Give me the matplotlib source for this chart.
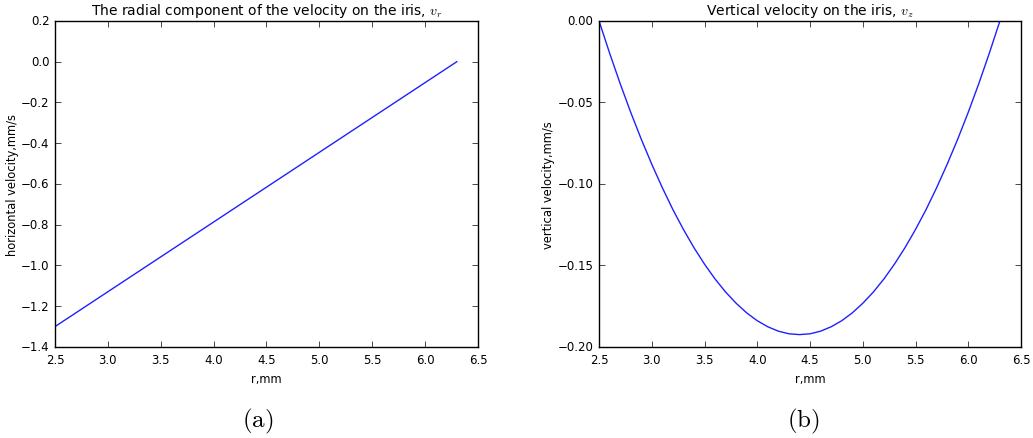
import matplotlib
matplotlib.use("Agg")
import matplotlib.pyplot as plt

# radial velocity
r_a = [2.5, 6.3]
vr = [-1.3, 0.0]

# vertical velocity
r_b = [2.5, 2.6, 2.7, 2.8, 2.9, 3.0, 3.1, 3.2, 3.3, 3.4, 3.5, 3.6, 3.7, 3.8,
       3.9, 4.0, 4.1, 4.2, 4.3, 4.4, 4.5, 4.6, 4.7, 4.8, 4.9, 5.0, 5.1, 5.2,
       5.3, 5.4, 5.5, 5.6, 5.7, 5.8, 5.9, 6.0, 6.1, 6.2, 6.3]
vz = [0.0, -0.0197, -0.0384, -0.0560, -0.0725, -0.0879, -0.1023, -0.1157,
      -0.1279, -0.1391, -0.1492, -0.1583, -0.1663, -0.1732, -0.1791, -0.1839,
      -0.1876, -0.1903, -0.1919, -0.1924, -0.1919, -0.1903, -0.1876, -0.1839,
      -0.1791, -0.1732, -0.1663, -0.1583, -0.1492, -0.1391, -0.1279, -0.1157,
      -0.1023, -0.0879, -0.0725, -0.0560, -0.0384, -0.0197, 0.0]

plt.style.use('classic')
plt.rcParams['figure.facecolor'] = 'white'
plt.rcParams['savefig.facecolor'] = 'white'
plt.rcParams['font.size'] = 8.5

fig = plt.figure(figsize=(10.33, 4.39), dpi=100)
ax1 = fig.add_axes([0.0532, 0.2073, 0.4095, 0.7427])
ax2 = fig.add_axes([0.5799, 0.2073, 0.4085, 0.7427])

ax1.plot(r_a, vr, color='#2020ff')
ax1.set_xlim(2.5, 6.5)
ax1.set_ylim(-1.4, 0.2)
ax1.set_title(r'The radial component of the velocity on the iris, $v_r$', fontsize=10)
ax1.set_xlabel('r,mm', fontsize=8.3)
ax1.set_ylabel('horizontal velocity,mm/s', fontsize=8.3, labelpad=1)

ax2.plot(r_b, vz, color='#2020ff')
ax2.set_xlim(2.5, 6.5)
ax2.set_ylim(-0.2, 0.0)
ax2.set_yticks([-0.20, -0.15, -0.10, -0.05, 0.00])
ax2.set_title(r'Vertical velocity on the iris, $v_z$', fontsize=10)
ax2.set_xlabel('r,mm', fontsize=8.3)
ax2.set_ylabel('vertical velocity,mm/s', fontsize=8.3, labelpad=2)

for ax in (ax1, ax2):
    ax.tick_params(labelsize=8.5)

fig.text(0.2495, 0.039, r'$\mathrm{(a)}$', ha='center', va='center', fontsize=18)
fig.text(0.7775, 0.039, r'$\mathrm{(b)}$', ha='center', va='center', fontsize=18)

fig.savefig('out.png', dpi=100)
